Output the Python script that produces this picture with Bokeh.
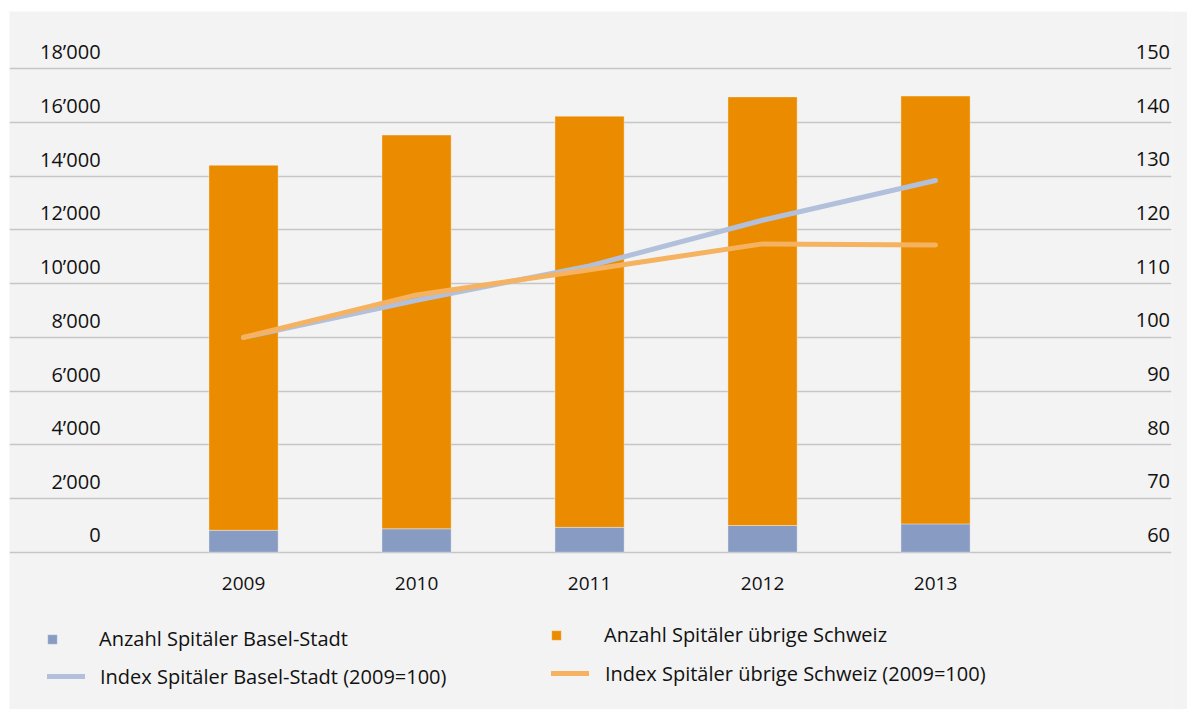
from bokeh.plotting import figure
from bokeh.models import ColumnDataSource, Range1d, FixedTicker, Legend, LegendItem
from bokeh.core.properties import value
from bokeh.embed import file_html
from bokeh.resources import INLINE

# --- data -----------------------------------------------------------------
years = [2009, 2010, 2011, 2012, 2013]
anzahl_basel = [816, 872, 925, 994, 1054]
anzahl_uebrige = [13592, 14660, 15310, 15960, 15930]
index_basel = [100.0, 106.9, 113.3, 121.8, 129.2]
index_uebrige = [100.0, 107.9, 112.6, 117.4, 117.2]

left_ticks = [0, 2000, 4000, 6000, 8000, 10000, 12000, 14000, 16000, 18000]
left_labels = ["0", "2’000", "4’000", "6’000", "8’000", "10’000",
               "12’000", "14’000", "16’000", "18’000"]
right_ticks = [60, 70, 80, 90, 100, 110, 120, 130, 140, 150]
right_labels = [str(t) for t in right_ticks]
year_labels = [str(y) for y in years]

legend_labels = [
    "Anzahl Spitäler Basel-Stadt",
    "Index Spitäler Basel-Stadt (2009=100)",
    "Anzahl Spitäler übrige Schweiz",
    "Index Spitäler übrige Schweiz (2009=100)",
]

# --- styling ----------------------------------------------------------------
BG = "#f3f3f3"
C_BASEL = "#889cc3"
C_UEBRIGE = "#eb8c00"
C_IDX_BASEL = "#b3c0dc"
C_IDX_UEBRIGE = "#f5b260"
TXT = "#111111"
FONT = value("Open Sans")
FS = "20px"

# frame geometry: 173 px per year, 2000 units per 53.7 px
X0, X1 = 2007.647, 2014.364
Y0, Y1 = -5858, 20134
IDX0, IDX1 = 60 + Y0 / 200, 60 + Y1 / 200

p = figure(width=1178, height=698, margin=(11, 0, 0, 9),
           x_range=Range1d(X0, X1), y_range=Range1d(Y0, Y1),
           output_backend="svg", toolbar_location=None,
           min_border_left=0, min_border_top=0, min_border_bottom=0,
           min_border_right=16)
p.extra_y_ranges = {"idx": Range1d(IDX0, IDX1)}
p.background_fill_color = BG
p.border_fill_color = BG
p.outline_line_color = None
p.xaxis.visible = False
p.yaxis.visible = False
p.xgrid.visible = False
p.ygrid.ticker = FixedTicker(ticks=left_ticks)
p.ygrid.grid_line_color = "#c6c6c6"
p.ygrid.grid_line_width = 1.3

# stacked bars
src = ColumnDataSource(dict(year=years, basel=anzahl_basel, uebrige=anzahl_uebrige))
bar_basel, bar_uebrige = p.vbar_stack(
    ["basel", "uebrige"], x="year", width=0.4, source=src,
    fill_color=[C_BASEL, C_UEBRIGE], line_color="#ffffff",
    line_alpha=0.35, line_width=1)

# index lines on the secondary scale
l_basel = p.line(years, index_basel, y_range_name="idx", line_color=C_IDX_BASEL,
                 line_width=5, line_cap="round", line_join="round")
l_uebrige = p.line(years, index_uebrige, y_range_name="idx", line_color=C_IDX_UEBRIGE,
                   line_width=5, line_cap="round", line_join="round")

# tick labels, set just above their grid lines
x_left_lab = 2009 - (243 - 100) / 173
x_right_lab = 2013 + (1169.5 - 935) / 173
p.text(x=[x_left_lab] * len(left_ticks), y=left_ticks, text=left_labels,
       text_align="right", text_baseline="alphabetic", y_offset=-17,
       text_font=FONT, text_font_size=FS, text_color=TXT)
p.text(x=[x_right_lab] * len(right_ticks), y=right_ticks, text=right_labels,
       y_range_name="idx", text_align="right", text_baseline="alphabetic",
       y_offset=-17, text_font=FONT, text_font_size=FS, text_color=TXT)
p.text(x=years, y=[0] * len(years), text=year_labels, text_align="center",
       text_baseline="alphabetic", y_offset=31, text_font=FONT,
       text_font_size="19px", text_color=TXT)


def add_legend(label, renderer, loc, glyph_w, glyph_h, standoff):
    lg = Legend(items=[LegendItem(label=label, renderers=[renderer])],
                location=loc, orientation="vertical",
                glyph_width=glyph_w, glyph_height=glyph_h, label_standoff=standoff,
                padding=0, margin=0, spacing=0,
                border_line_color=None, background_fill_alpha=0,
                label_text_font="Open Sans", label_text_font_size=FS,
                label_text_color=TXT)
    p.add_layout(lg, "center")


add_legend(legend_labels[0], bar_basel, (37, 57), 12, 12, 41)
add_legend(legend_labels[1], l_basel, (38, 18), 38, 30, 15)
add_legend(legend_labels[2], bar_uebrige, (541, 61), 12, 12, 42)
add_legend(legend_labels[3], l_uebrige, (542, 21), 38, 30, 16)

open("out.html", "w").write(file_html(p, INLINE))
